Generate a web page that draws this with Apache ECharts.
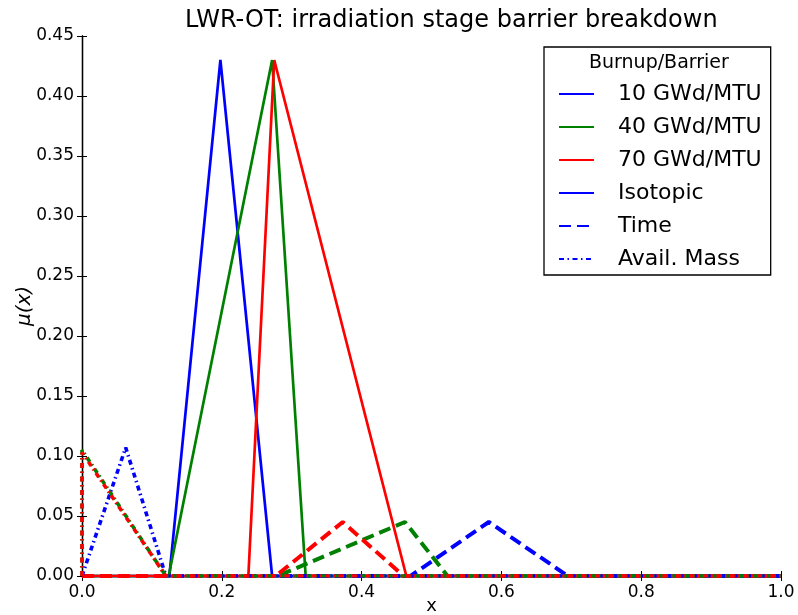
<!DOCTYPE html>
<html>
<head>
<meta charset="utf-8">
<script src="https://cdn.jsdelivr.net/npm/echarts@6/dist/echarts.min.js"></script>
<style>
  html, body { margin: 0; padding: 0; background: #fff; }
  #chart { width: 798px; height: 615px; }
</style>
</head>
<body>
<div id="chart"></div>
<script>
// Triangular membership functions, one per burnup level and barrier.
const isotopic10X = [0, 0.125, 0.198, 0.272, 1];
const isotopic10Y = [0, 0, 0.43, 0, 0];
const isotopic40X = [0, 0.124, 0.272, 0.320, 1];
const isotopic40Y = [0, 0, 0.43, 0, 0];
const isotopic70X = [0, 0.238, 0.275, 0.464, 1];
const isotopic70Y = [0, 0, 0.43, 0, 0];

const time10X = [0, 0.470, 0.582, 0.695, 1];
const time10Y = [0, 0, 0.045, 0, 0];
const time40X = [0, 0.280, 0.462, 0.523, 1];
const time40Y = [0, 0, 0.045, 0, 0];
const time70X = [0, 0.277, 0.373, 0.460, 1];
const time70Y = [0, 0, 0.045, 0, 0];

const mass10X = [0, 0.0625, 0.120, 1];
const mass10Y = [0, 0.107, 0, 0];
const mass40X = [0, 0, 0.120, 1];
const mass40Y = [0, 0.105, 0, 0];
const mass70X = [0, 0, 0.120, 1];
const mass70Y = [0, 0.103, 0, 0];

const burnupNames = ['10 GWd/MTU', '40 GWd/MTU', '70 GWd/MTU'];
const barrierNames = ['Isotopic', 'Time', 'Avail. Mass'];
const burnupColors = ['#0000ff', '#008000', '#ff0000'];

const xTickLabels = ['0.0', '0.2', '0.4', '0.6', '0.8', '1.0'];
const yTickLabels = ['0.00', '0.05', '0.10', '0.15', '0.20', '0.25', '0.30', '0.35', '0.40', '0.45'];

const FONT = 'DejaVu Sans';
const solidStyle = { type: 'solid', width: 2.7 };
const dashStyle = { type: [12, 6], width: 4 };
const dashDotStyle = { type: [5, 3.5, 1.5, 3.5], width: 3.6 };
const barrierStyles = [solidStyle, dashStyle, dashDotStyle];

function zip(xs, ys) {
  return xs.map((x, i) => [x, ys[i]]);
}

const curves = [
  [zip(isotopic10X, isotopic10Y), zip(isotopic40X, isotopic40Y), zip(isotopic70X, isotopic70Y)],
  [zip(time10X, time10Y), zip(time40X, time40Y), zip(time70X, time70Y)],
  [zip(mass10X, mass10Y), zip(mass40X, mass40Y), zip(mass70X, mass70Y)]
];

const series = [];
curves.forEach((row, b) => {
  row.forEach((data, k) => {
    series.push({
      type: 'line',
      name: burnupNames[k],
      data: data,
      symbol: 'none',
      animation: false,
      color: burnupColors[k],
      lineStyle: Object.assign({ color: burnupColors[k], cap: 'butt' }, barrierStyles[b])
    });
  });
});
// Legend-only entries describing the line style of each barrier.
barrierNames.forEach((name, b) => {
  series.push({
    type: 'line',
    name: name,
    data: [],
    symbol: 'none',
    color: burnupColors[0],
    lineStyle: Object.assign({ color: burnupColors[0] }, barrierStyles[b])
  });
});

const tickFont = { color: '#000', fontSize: 17, fontFamily: FONT };
const axisLine = { show: true, lineStyle: { color: '#000', width: 1.3 } };
const axisTick = { show: true, inside: true, length: 5, lineStyle: { color: '#000', width: 1 } };

const chart = echarts.init(document.getElementById('chart'), null, { renderer: 'canvas' });
chart.setOption({
  backgroundColor: '#fff',
  animation: false,
  title: {
    text: 'LWR-OT: irradiation stage barrier breakdown',
    left: 180,
    top: 4,
    textStyle: { fontFamily: FONT, fontSize: 24, fontWeight: 'normal', color: '#000' }
  },
  grid: { left: 82, right: 17, top: 36, bottom: 39, containLabel: false, outerBoundsMode: 'none' },
  xAxis: [
    {
      type: 'value', min: 0, max: 1, interval: 0.2,
      name: 'x', nameLocation: 'middle', nameGap: 21, nameMoveOverlap: false,
      nameTextStyle: { fontFamily: FONT, fontSize: 18, color: '#000' },
      axisLine: axisLine, axisTick: axisTick, splitLine: { show: false },
      axisLabel: Object.assign({ margin: 8, formatter: (v) => xTickLabels[Math.round(v / 0.2)] }, tickFont)
    },
    {
      type: 'value', min: 0, max: 1, interval: 0.2, position: 'top',
      axisLine: axisLine, axisTick: axisTick, splitLine: { show: false },
      axisLabel: { show: false }
    }
  ],
  yAxis: [
    {
      type: 'value', min: 0, max: 0.45, interval: 0.05,
      name: 'μ(x)', nameLocation: 'middle', nameGap: 47, nameRotate: 90, nameMoveOverlap: false,
      nameTextStyle: { fontFamily: FONT, fontSize: 20, fontStyle: 'italic', color: '#000' },
      axisLine: axisLine, axisTick: axisTick, splitLine: { show: false },
      axisLabel: Object.assign({ margin: 8, formatter: (v) => yTickLabels[Math.round(v / 0.05)] }, tickFont)
    },
    {
      type: 'value', min: 0, max: 0.45, interval: 0.05, position: 'right',
      axisLine: axisLine, axisTick: axisTick, splitLine: { show: false },
      axisLabel: { show: false }
    }
  ],
  legend: {
    orient: 'vertical',
    left: 544,
    top: 47,
    data: burnupNames.concat(barrierNames),
    itemWidth: 35,
    itemHeight: 14,
    itemGap: 9,
    padding: [35, 9, 4, 14],
    backgroundColor: '#fff',
    borderColor: '#000',
    borderWidth: 1.3,
    borderRadius: 0,
    selectedMode: false,
    itemStyle: { color: 'rgba(0,0,0,0)', borderWidth: 0, opacity: 0 },
    textStyle: { fontFamily: FONT, fontSize: 22, color: '#000', lineHeight: 24, padding: [0, 0, 0, 19] }
  },
  graphic: [
    {
      type: 'text',
      z: 100,
      left: 589,
      top: 54,
      style: { text: 'Burnup/Barrier', fontFamily: FONT, fontSize: 19, fill: '#000' }
    }
  ],
  series: series
});
</script>
</body>
</html>
